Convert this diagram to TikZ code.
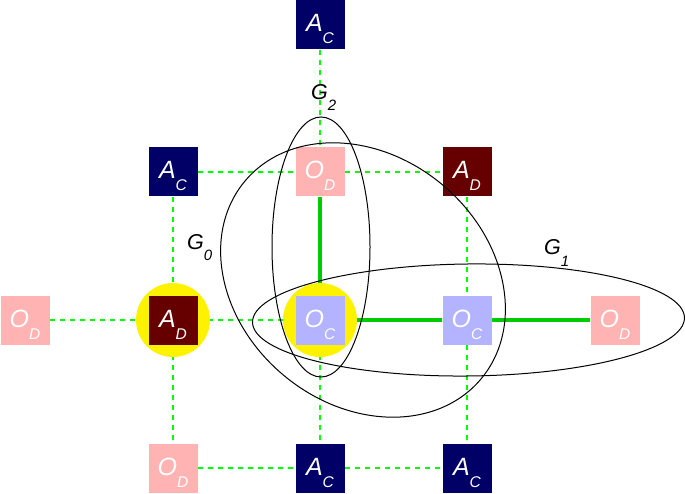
\documentclass[tikz,border=0pt]{standalone}
\usepackage{fontspec}
\setmainfont{Liberation Sans}
\pgfdeclarelayer{bg}
\pgfdeclarelayer{mid}
\pgfsetlayers{bg,mid,main}
\definecolor{navyc}{HTML}{000066}
\definecolor{darkd}{HTML}{660000}
\definecolor{pinko}{HTML}{FFB3B3}
\definecolor{blueo}{HTML}{B3B3FF}
\definecolor{thickg}{HTML}{00CC00}
\definecolor{thing}{HTML}{00FF00}
\newcommand{\sqlab}[2]{\raisebox{-7pt}[0pt][0pt]{\fontsize{25}{25}\selectfont\itshape #1\raisebox{-12pt}{\fontsize{15.5}{15.5}\selectfont #2}}}
\newcommand{\glab}[1]{\fontsize{21.5}{21.5}\selectfont\itshape G\raisebox{-11pt}{\fontsize{15}{15}\selectfont #1}}
\tikzset{
  sqbase/.style={rectangle, minimum size=49pt, inner sep=0pt, text=white},
  sqAC/.style={sqbase, fill=navyc},
  sqAD/.style={sqbase, fill=darkd},
  sqOD/.style={sqbase, fill=pinko},
  sqOC/.style={sqbase, fill=blueo},
  halo/.style={circle, fill=yellow, minimum size=74pt, inner sep=0pt},
  gridline/.style={draw=thing, line width=1.4pt, dash pattern=on 5pt off 5pt},
  bond/.style={draw=thickg, line width=4.5pt},
  grp/.style={draw=black, line width=1pt},
  glabel/.style={anchor=base west, inner sep=0pt, text=black}
}
\begin{document}
\begin{tikzpicture}[x=1pt,y=-1pt]
\useasboundingbox (0,0) rectangle (685,494);
% squares
\node[sqAC] (t)  at (320,25)  {\sqlab{A}{C}};
\node[sqAC] (a1) at (173,172) {\sqlab{A}{C}};
\node[sqOD] (b1) at (320,172) {\sqlab{O}{D}};
\node[sqAD] (c1) at (467,172) {\sqlab{A}{D}};
\node[sqOD] (a2) at (25,320)  {\sqlab{O}{D}};
\node[sqAD] (b2) at (173,320) {\sqlab{A}{D}};
\node[sqOC] (c2) at (320,320) {\sqlab{O}{C}};
\node[sqOC] (d2) at (467,320) {\sqlab{O}{C}};
\node[sqOD] (e2) at (615,320) {\sqlab{O}{D}};
\node[sqOD] (a3) at (173,468) {\sqlab{O}{D}};
\node[sqAC] (b3) at (320,468) {\sqlab{A}{C}};
\node[sqAC] (c3) at (467,468) {\sqlab{A}{C}};
% yellow halos
\begin{pgfonlayer}{mid}
\node[halo] (h1) at (b2) {};
\node[halo] (h2) at (c2) {};
\end{pgfonlayer}
% grid lines and bonds
\begin{pgfonlayer}{bg}
\draw[gridline] (t) -- (b1);
\draw[gridline] (a1) -- (b1);
\draw[gridline] (b1) -- (c1);
\draw[gridline] (a1) -- (b2);
\draw[gridline] (b2) -- (a3);
\draw[gridline] (c1) -- (d2);
\draw[gridline] (d2) -- (c3);
\draw[gridline] (a2) -- (b2);
\draw[gridline] (b2) -- (c2);
\draw[gridline] (c2) -- (b3);
\draw[gridline] (a3) -- (b3);
\draw[gridline] (b3) -- (c3);
\draw[bond] (b1) -- (c2);
\draw[bond] (c2) -- (d2);
\draw[bond] (d2) -- (e2);
\end{pgfonlayer}
% groups
\coordinate (g0c) at (363,280);
\coordinate (g1c) at (468.5,320);
\coordinate (g2c) at (321,247);
\draw[grp, rotate around={-40:(g0c)}] (g0c) ellipse [x radius=154pt, y radius=124pt];
\draw[grp, rotate around={0.6:(g1c)}] (g1c) ellipse [x radius=216pt, y radius=56pt];
\draw[grp] (g2c) ellipse [x radius=49pt, y radius=130pt];
\node[glabel] (lg2) at (311,100) {\glab{2}};
\node[glabel] (lg0) at (187,250) {\glab{0}};
\node[glabel] (lg1) at (544,255) {\glab{1}};
\end{tikzpicture}
\end{document}
